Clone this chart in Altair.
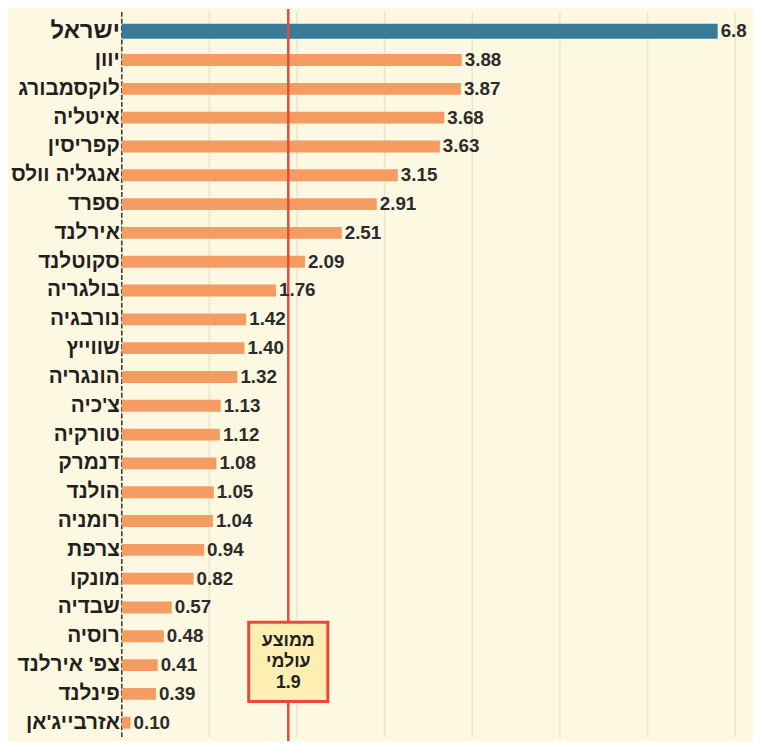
import altair as alt
import pandas as pd

countries = ["ישראל", "יוון", "לוקסמבורג", "איטליה", "קפריסין", "אנגליה וולס", "ספרד",
             "אירלנד", "סקוטלנד", "בולגריה", "נורבגיה", "שווייץ", "הונגריה", "צ'כיה",
             "טורקיה", "דנמרק", "הולנד", "רומניה", "צרפת", "מונקו", "שבדיה", "רוסיה",
             "צפ' אירלנד", "פינלנד", "אזרבייג'אן"]
values = [6.8, 3.88, 3.87, 3.68, 3.63, 3.15, 2.91, 2.51, 2.09, 1.76, 1.42, 1.40, 1.32,
          1.13, 1.12, 1.08, 1.05, 1.04, 0.94, 0.82, 0.57, 0.48, 0.41, 0.39, 0.10]
value_labels = ["6.8", "3.88", "3.87", "3.68", "3.63", "3.15", "2.91", "2.51", "2.09", "1.76",
                "1.42", "1.40", "1.32", "1.13", "1.12", "1.08", "1.05", "1.04", "0.94",
                "0.82", "0.57", "0.48", "0.41", "0.39", "0.10"]
highlight = "ישראל"
world_avg = [1.9]
avg_text = ["ממוצע\nעולמי\n1.9"]
grid_ticks = [1, 2, 3, 4, 5, 6, 7]
axis_zero = [0]

df = pd.DataFrame({"country": countries, "value": values, "label": value_labels})
df["hl"] = df["country"] == highlight
grid_df = pd.DataFrame({"t": grid_ticks})
zero_df = pd.DataFrame({"t": axis_zero})
avg_df = pd.DataFrame({"t": world_avg, "txt": avg_text})

W, H = 620, 728
BG = "#fdf8e1"
ORANGE = "#f59c62"
BLUE = "#3a7b9a"
RED = "#e8493b"
INK = "#231f20"
FONT = "Liberation Sans"

xs = alt.Scale(domain=[0, 7])
ys = alt.Scale(domain=countries, paddingInner=0, paddingOuter=0)
Y = alt.Y("country:N", sort=None, scale=ys, axis=None)
X = alt.X("value:Q", scale=xs, axis=None)
XT = alt.X("t:Q", scale=xs, axis=None)

base = alt.Chart(df)

grid = alt.Chart(grid_df).mark_rule(color="#e9e4cf", strokeWidth=1.5).encode(
    x=XT, y=alt.value(-5), y2=alt.value(H)
)

axis_line = alt.Chart(zero_df).mark_rule(color="#333333", strokeWidth=1.5, strokeDash=[5, 2]).encode(
    x=XT, y=alt.value(-5), y2=alt.value(H)
)

bars = base.transform_filter("!datum.hl").mark_bar(color=ORANGE, size=12).encode(x=X, y=Y)
bar_hl = base.transform_filter("datum.hl").mark_bar(color=BLUE, size=15).encode(x=X, y=Y)

avg_rule = alt.Chart(avg_df).mark_rule(color=RED, strokeWidth=2.5).encode(
    x=XT, y=alt.value(-8), y2=alt.value(H + 5)
)

avg_box = alt.Chart(avg_df).mark_point(
    shape="square", size=6400, filled=True, fill="#fdefb2", stroke=RED, strokeWidth=3, opacity=1
).encode(x=XT, y=alt.value(652))

avg_lbl = alt.Chart(avg_df).mark_text(
    font=FONT, fontWeight="bold", fontSize=18, color=INK, lineBreak="\n", lineHeight=21,
    align="center", baseline="middle"
).encode(x=XT, y=alt.value(631), text="txt:N")

names = base.transform_filter("!datum.hl").mark_text(
    font=FONT, fontWeight="bold", fontSize=21, color=INK, align="right", baseline="middle"
).encode(y=Y, x=alt.value(-2), text="country:N")

name_hl = base.transform_filter("datum.hl").mark_text(
    font=FONT, fontWeight=900, fontSize=24, color=INK, align="right", baseline="middle"
).encode(y=Y, x=alt.value(-2), text="country:N")

vals = base.mark_text(
    font=FONT, fontWeight="bold", fontSize=19, color="#2b2b2b", align="left", baseline="middle", dx=3
).encode(y=Y, x=X, text="label:N")

chart = alt.layer(
    grid, axis_line, bars, bar_hl, avg_rule, avg_box, avg_lbl, names, name_hl, vals
).properties(
    width=W, height=H, background=BG,
    padding={"left": 115, "top": 5, "right": 18, "bottom": 0},
    autosize=alt.AutoSizeParams(type="none"),
).configure_view(stroke=None)

chart.save("out.html", embed_options={"renderer": "svg", "actions": False})
